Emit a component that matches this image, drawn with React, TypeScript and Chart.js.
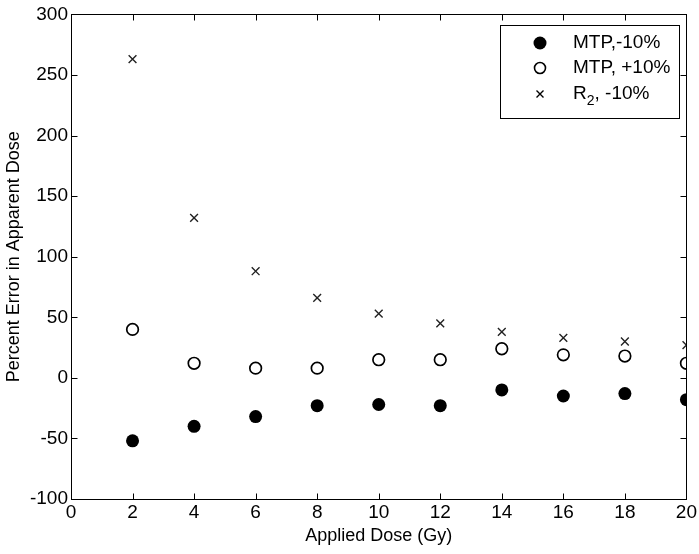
import React, { useEffect, useRef } from "react";
import { Chart, registerables } from "chart.js";

Chart.register(...registerables);

const doses = [2, 4, 6, 8, 10, 12, 14, 16, 18, 20];
const mtpMinus10 = [-52, -40, -32, -23, -22, -23, -10, -15, -13, -18];
const mtpPlus10 = [40, 12, 8, 8, 15, 15, 24, 19, 18, 12];
const r2Minus10 = [263, 132, 88, 66, 53, 45, 38, 33, 30, 27];
const xTickValues = [0, 2, 4, 6, 8, 10, 12, 14, 16, 18, 20];
const yTickValues = [-100, -50, 0, 50, 100, 150, 200, 250, 300];
const legendLabels = ["MTP,-10%", "MTP, +10%", "R_2, -10%"];
const xTitle = "Applied Dose (Gy)";
const yTitle = "Percent Error in Apparent Dose";

const FONT = "'Liberation Sans', Arial, Helvetica, sans-serif";

const framePlugin = {
  id: "frame",
  afterDraw(chart: any) {
    const { ctx, chartArea: a, scales } = chart;
    ctx.save();
    ctx.strokeStyle = "#000";
    ctx.lineWidth = 1;
    const L = Math.round(a.left) + 0.5;
    const R = Math.round(a.right) + 0.5;
    const T = Math.round(a.top) + 0.5;
    const B = Math.round(a.bottom) + 0.5;
    ctx.strokeRect(L, T, R - L, B - T);
    const tl = 6;
    ctx.beginPath();
    for (const v of xTickValues) {
      const x = Math.round(scales.x.getPixelForValue(v)) + 0.5;
      ctx.moveTo(x, B);
      ctx.lineTo(x, B - tl);
      ctx.moveTo(x, T);
      ctx.lineTo(x, T + tl);
    }
    for (const v of yTickValues) {
      const y = Math.round(scales.y.getPixelForValue(v)) + 0.5;
      ctx.moveTo(L, y);
      ctx.lineTo(L + tl, y);
      ctx.moveTo(R, y);
      ctx.lineTo(R - tl, y);
    }
    ctx.stroke();
    ctx.restore();
  },
};

function drawMarker(ctx: CanvasRenderingContext2D, kind: number, x: number, y: number) {
  ctx.save();
  ctx.strokeStyle = "#000";
  ctx.fillStyle = "#000";
  if (kind === 0) {
    ctx.beginPath();
    ctx.arc(x, y, 6.5, 0, Math.PI * 2);
    ctx.fill();
  } else if (kind === 1) {
    ctx.lineWidth = 1.6;
    ctx.beginPath();
    ctx.arc(x, y, 5.5, 0, Math.PI * 2);
    ctx.stroke();
  } else {
    ctx.lineWidth = 1.4;
    const d = 3.5;
    ctx.beginPath();
    ctx.moveTo(x - d, y - d);
    ctx.lineTo(x + d, y + d);
    ctx.moveTo(x + d, y - d);
    ctx.lineTo(x - d, y + d);
    ctx.stroke();
  }
  ctx.restore();
}

const legendPlugin = {
  id: "boxLegend",
  afterDraw(chart: any) {
    const { ctx, chartArea: a } = chart;
    const right = Math.round(a.right) - 7;
    const top = Math.round(a.top) + 11;
    const w = 179;
    const h = 93;
    const left = right - w;
    ctx.save();
    ctx.fillStyle = "#fff";
    ctx.fillRect(left, top, w, h);
    ctx.strokeStyle = "#000";
    ctx.lineWidth = 1;
    ctx.strokeRect(left + 0.5, top + 0.5, w, h);
    const mx = left + 40;
    const tx = left + 73;
    const rows = [top + 18, top + 43, top + 69];
    legendLabels.forEach((label, i) => {
      drawMarker(ctx, i, mx, rows[i]);
      ctx.fillStyle = "#000";
      ctx.textBaseline = "middle";
      ctx.textAlign = "left";
      ctx.font = `19px ${FONT}`;
      const idx = label.indexOf("_");
      if (idx >= 0) {
        const main = label.slice(0, idx);
        const sub = label.slice(idx + 1, idx + 2);
        const rest = label.slice(idx + 2);
        ctx.fillText(main, tx, rows[i]);
        let x = tx + ctx.measureText(main).width;
        ctx.font = `14px ${FONT}`;
        ctx.fillText(sub, x, rows[i] + 7);
        x += ctx.measureText(sub).width;
        ctx.font = `19px ${FONT}`;
        ctx.fillText(rest, x, rows[i]);
      } else {
        ctx.fillText(label, tx, rows[i]);
      }
    });
    ctx.restore();
  },
};

export default function App() {
  const canvasRef = useRef<HTMLCanvasElement | null>(null);

  useEffect(() => {
    document.body.style.margin = "0";
    const canvas = canvasRef.current;
    if (!canvas) return;
    const toPts = (ys: number[]) => doses.map((x, i) => ({ x, y: ys[i] }));
    const chart = new Chart(canvas, {
      type: "scatter",
      data: {
        datasets: [
          {
            label: legendLabels[0],
            data: toPts(mtpMinus10),
            pointStyle: "circle",
            pointRadius: 6.5,
            pointBackgroundColor: "#000",
            pointBorderColor: "#000",
            pointBorderWidth: 0,
          },
          {
            label: legendLabels[1],
            data: toPts(mtpPlus10),
            pointStyle: "circle",
            pointRadius: 5.8,
            pointBackgroundColor: "rgba(255,255,255,0)",
            pointBorderColor: "#000",
            pointBorderWidth: 1.7,
          },
          {
            label: legendLabels[2],
            data: toPts(r2Minus10),
            pointStyle: "crossRot",
            pointRadius: 5.5,
            pointBorderColor: "#222",
            pointBorderWidth: 1.4,
          },
        ],
      },
      options: {
        responsive: false,
        animation: false,
        layout: { padding: { left: 0, right: 11, top: 14, bottom: 0 } },
        plugins: {
          legend: { display: false },
          tooltip: { enabled: false },
        },
        scales: {
          x: {
            type: "linear",
            min: 0,
            max: 20,
            afterFit: (s: any) => {
              s.height = 55;
            },
            afterBuildTicks: (s: any) => {
              s.ticks = xTickValues.map((v) => ({ value: v }));
            },
            ticks: {
              color: "#000",
              font: { family: FONT, size: 19 },
              padding: 2,
              maxRotation: 0,
              autoSkip: false,
            },
            grid: { display: false, drawTicks: false },
            border: { display: false },
            title: {
              display: true,
              text: xTitle,
              color: "#000",
              font: { family: FONT, size: 18 },
              padding: { top: 0, bottom: 7 },
            },
          },
          y: {
            type: "linear",
            min: -100,
            max: 300,
            afterFit: (s: any) => {
              s.width = 71;
            },
            afterBuildTicks: (s: any) => {
              s.ticks = yTickValues.map((v) => ({ value: v }));
            },
            ticks: {
              color: "#000",
              font: { family: FONT, size: 19 },
              padding: 3,
              autoSkip: false,
            },
            grid: { display: false, drawTicks: false },
            border: { display: false },
            title: {
              display: true,
              text: yTitle,
              color: "#000",
              font: { family: FONT, size: 18 },
              padding: { top: 3, bottom: 0 },
            },
          },
        },
      },
      plugins: [framePlugin, legendPlugin],
    } as any);
    return () => chart.destroy();
  }, []);

  return (
    <div style={{ width: 699, height: 554, background: "#fff" }}>
      <canvas ref={canvasRef} width={699} height={554} style={{ display: "block" }} />
    </div>
  );
}
